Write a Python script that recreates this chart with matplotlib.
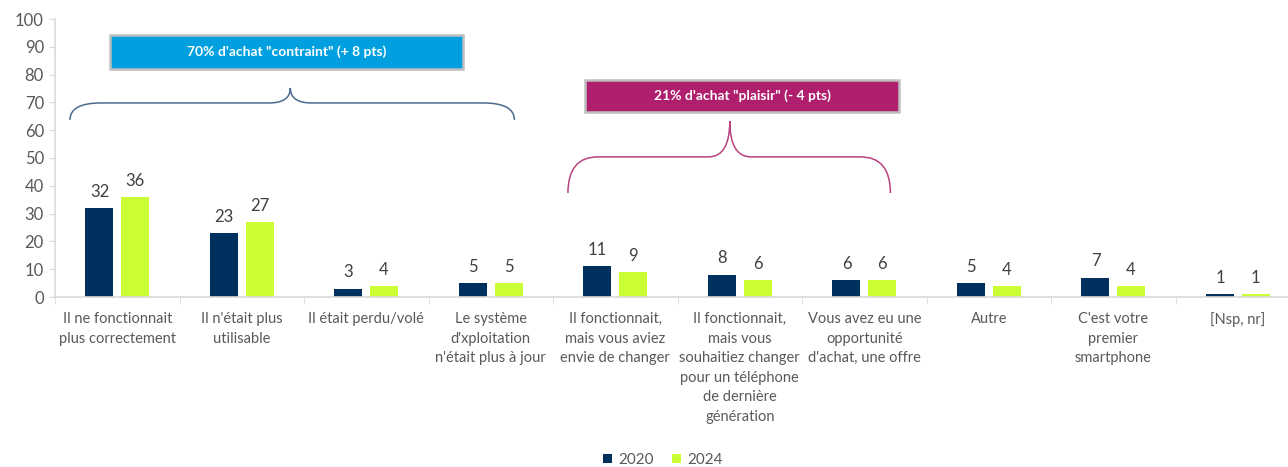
#!/usr/bin/env python
import matplotlib
matplotlib.use('Agg')
from matplotlib import pyplot as plt
from matplotlib.path import Path
from matplotlib.patches import PathPatch, Rectangle

CATEGORIES = [
    "Il ne fonctionnait\nplus correctement",
    "Il n'était plus\nutilisable",
    "Il était perdu/volé",
    "Le système\nd'xploitation\nn'était plus à jour",
    "Il fonctionnait,\nmais vous aviez\nenvie de changer",
    "Il fonctionnait,\nmais vous\nsouhaitiez changer\npour un téléphone\nde dernière\ngénération",
    "Vous avez eu une\nopportunité\nd'achat, une offre",
    "Autre",
    "C'est votre\npremier\nsmartphone",
    "[Nsp, nr]",
]
VALUES_2020 = [32, 23, 3, 5, 11, 8, 6, 5, 7, 1]
VALUES_2024 = [36, 27, 4, 5, 9, 6, 6, 4, 4, 1]
SERIES_NAMES = ["2020", "2024"]

NAVY = '#00305E'
LIME = '#CCFF33'
BLUE_BOX = '#00A0E0'
MAGENTA_BOX = '#B01F6E'
BLUE_BRACE = '#4A6A8F'
MAGENTA_BRACE = '#B8437F'
FONT = 'Lato'


def brace(ax, x0, x1, xc, y_end, y_h, y_tip, rx, rt, color):
    verts = [
        (x0, y_end), (x0, y_h), (x0 + rx, y_h),
        (xc - rt, y_h),
        (xc, y_h), (xc, y_tip),
        (xc, y_h), (xc + rt, y_h),
        (x1 - rx, y_h),
        (x1, y_h), (x1, y_end),
    ]
    codes = [
        Path.MOVETO, Path.CURVE3, Path.CURVE3,
        Path.LINETO,
        Path.CURVE3, Path.CURVE3,
        Path.CURVE3, Path.CURVE3,
        Path.LINETO,
        Path.CURVE3, Path.CURVE3,
    ]
    ax.add_patch(PathPatch(Path(verts, codes), fill=False, edgecolor=color, lw=1.1, clip_on=False))


def label_box(ax, x0, x1, y0, y1, color, text):
    ax.add_patch(Rectangle((x0, y0), x1 - x0, y1 - y0, facecolor=color, edgecolor='#BFBFBF',
                           lw=1.8, clip_on=False, zorder=4))
    ax.text((x0 + x1) / 2, (y0 + y1) / 2, text, ha='center', va='center', color='white',
            fontsize=10, fontweight='bold', family=FONT, zorder=5)


def main():
    fig = plt.figure(figsize=(12.88, 4.67), dpi=100)
    ax = fig.add_axes([55 / 1288, 170 / 467, 1245 / 1288, 278 / 467])

    x = list(range(len(CATEGORIES)))
    off = 0.143
    w = 0.225
    b1 = ax.bar([i - off for i in x], VALUES_2020, w, color=NAVY, label=SERIES_NAMES[0])
    b2 = ax.bar([i + off for i in x], VALUES_2024, w, color=LIME, label=SERIES_NAMES[1])
    for b in (b1, b2):
        ax.bar_label(b, padding=6, fontsize=12, color='#404040', family=FONT)

    ax.set_xlim(-0.5, 9.5)
    ax.set_ylim(0, 100)
    ax.set_yticks(range(0, 101, 10))
    ax.set_xticks(x)
    ax.set_xticklabels(CATEGORIES, fontsize=10.5, color='#595959', family=FONT, linespacing=1.5)
    ax.set_xticks([i + 0.5 for i in x[:-1]] + [-0.5], minor=True)
    ax.tick_params(axis='x', which='major', length=0, pad=11)
    ax.tick_params(axis='x', which='minor', length=5, color='#D9D9D9')
    ax.tick_params(axis='y', length=4, color='#D9D9D9', labelsize=12, labelcolor='#595959', pad=4)
    for lab in ax.get_yticklabels():
        lab.set_family(FONT)
    for s in ('top', 'right'):
        ax.spines[s].set_visible(False)
    for s in ('left', 'bottom'):
        ax.spines[s].set_color('#D9D9D9')
        ax.spines[s].set_linewidth(1.2)

    # annotations: "contraint" group and "plaisir" group
    label_box(ax, -0.06, 2.78, 82.0, 94.2, BLUE_BOX, "70% d'achat \"contraint\" (+ 8 pts)")
    brace(ax, -0.38, 3.19, 1.39, 63.7, 69.8, 75.2, 0.25, 0.17, BLUE_BRACE)
    label_box(ax, 3.76, 6.28, 66.5, 78.1, MAGENTA_BOX, "21% d'achat \"plaisir\" (- 4 pts)")
    brace(ax, 3.62, 6.21, 4.92, 37.4, 50.4, 63.3, 0.24, 0.17, MAGENTA_BRACE)

    fig.legend(loc='center', bbox_to_anchor=(663 / 1288, 1 - 460 / 467), ncol=2, frameon=False,
               handlelength=0.6, handleheight=0.6, handletextpad=0.4, columnspacing=1.2,
               prop={'family': FONT, 'size': 11}, labelcolor='#595959')

    fig.savefig('out.png', dpi=100)


if __name__ == '__main__':
    main()
